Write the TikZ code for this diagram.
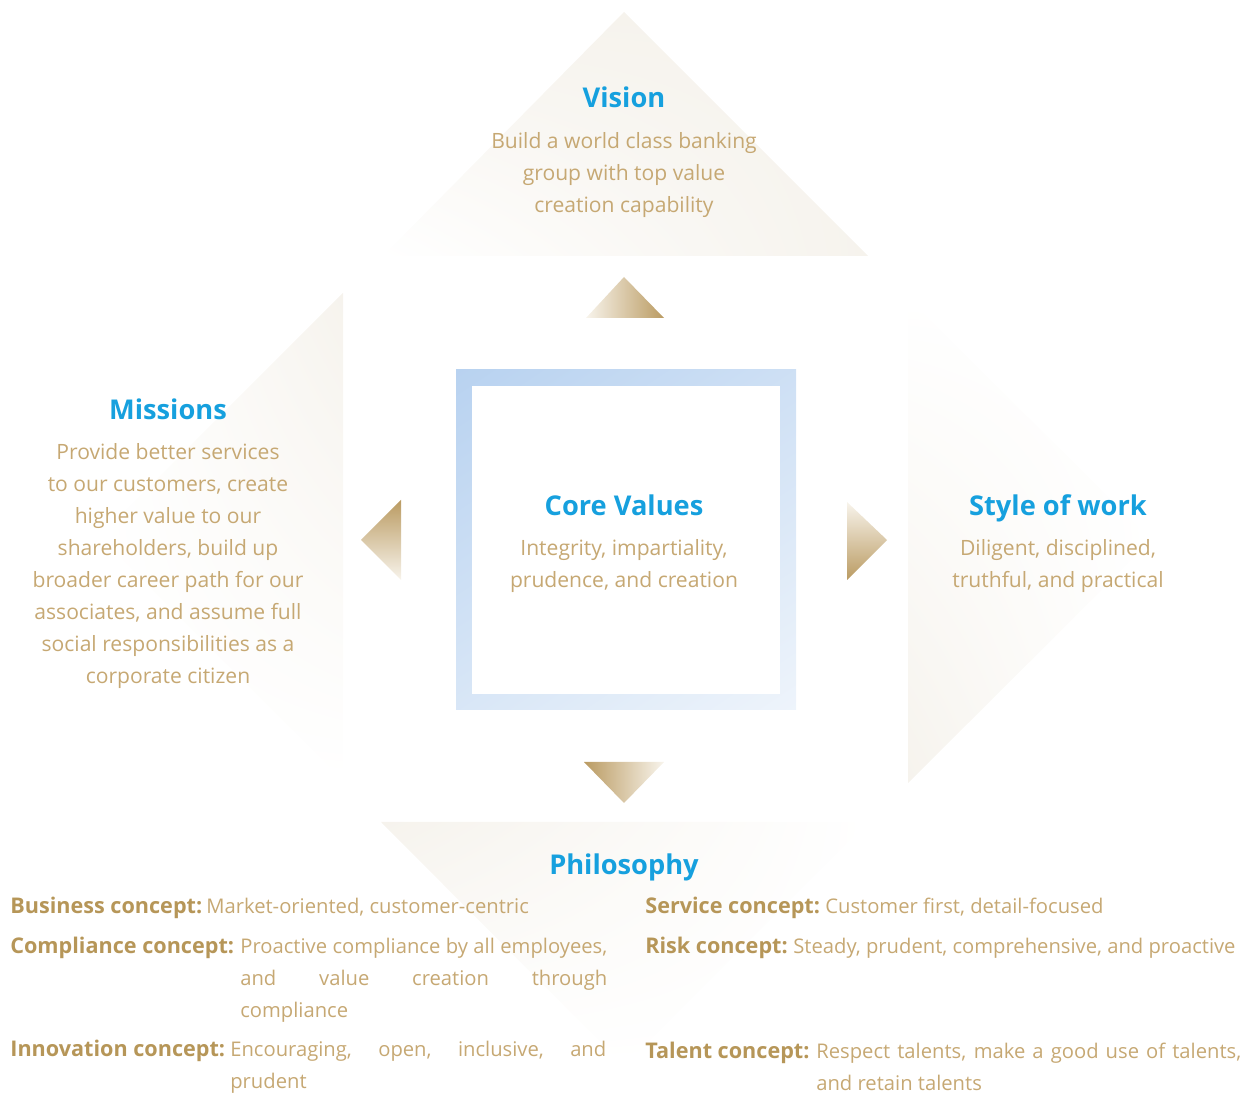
\documentclass[tikz,border=0pt]{standalone}
\usepackage{fontspec}
\setmainfont{Open Sans}
\usepackage{tikz}
\usetikzlibrary{positioning, shadings}

\definecolor{titleblue}{RGB}{22,160,222}
\definecolor{goldtext}{RGB}{198,168,115}
\definecolor{goldlabel}{RGB}{182,150,88}
\definecolor{goldarrow}{RGB}{186,155,98}
\definecolor{goldpale}{RGB}{248,244,236}
\definecolor{bgbeige}{RGB}{246,243,237}
\definecolor{framedark}{RGB}{184,210,240}
\definecolor{framelight}{RGB}{238,244,251}

\tikzset{
  title/.style={font=\fontsize{15.5pt}{18pt}\selectfont\bfseries, text=titleblue, inner sep=0pt, anchor=base},
  body/.style={font=\fontsize{12pt}{18.2pt}\selectfont, text=goldtext, align=center, inner sep=0pt},
  conceptname/.style={font=\fontsize{12.3pt}{18.2pt}\selectfont\bfseries, text=goldlabel, inner sep=0pt, anchor=base west},
  conceptbody/.style={font=\fontsize{11.5pt}{18.2pt}\selectfont, text=goldtext, inner sep=0pt, anchor=base west},
}

\begin{document}
\begin{tikzpicture}[x=0.02cm, y=-0.02cm]
    \useasboundingbox (0,0) rectangle (1249,1094);

    % ---------- 背景大三角 ----------
    % 上
    \shade[upper left=bgbeige, upper right=bgbeige, lower left=white, lower right=bgbeige]
        (383,256) -- (624,12) -- (868,256) -- cycle;
    % 左
    \shade[upper left=white, upper right=bgbeige, lower left=white, lower right=white]
        (343,293) -- (99,537) -- (343,781) -- cycle;
    % 右
    \shade[upper left=white, upper right=white, lower left=bgbeige, lower right=white]
        (908,298) -- (1152,540) -- (908,783) -- cycle;
    % 下
    \shade[upper left=bgbeige, upper right=white, lower left=white, lower right=white]
        (381,822) -- (868,822) -- (624,1066) -- cycle;

    % ---------- 金色小三角 ----------
    \shade[left color=goldpale, right color=goldarrow] (586,318) -- (624,277) -- (664,318) -- cycle;
    \shade[top color=goldarrow, bottom color=goldpale] (401,500) -- (361,540) -- (401,580) -- cycle;
    \shade[top color=goldpale, bottom color=goldarrow] (847,502) -- (887,540) -- (847,580) -- cycle;
    \shade[left color=goldarrow, right color=goldpale] (584,762) -- (664,762) -- (624,803) -- cycle;

    % ---------- 核心价值方框 ----------
    \shade[upper left=framedark, upper right=framedark!60!framelight,
           lower left=framedark!40!framelight, lower right=framelight]
        (456,370) rectangle (796,710);
    \fill[white] (472,386) rectangle (780,694);

    \node[title] (core) at (624,516) {Core Values};
    \node[body] (coretxt) at (624,566) {Integrity, impartiality,\\prudence, and creation};

    % ---------- 愿景 ----------
    \node[title] (vision) at (624,108) {Vision};
    \node[body] (visiontxt) at (624,175) {Build a world class banking\\group with top value\\creation capability};

    % ---------- 使命 ----------
    \node[title] (mission) at (168,420) {Missions};
    \node[body] (missiontxt) at (168,566) {Provide better services\\to our customers, create\\higher value to our\\shareholders, build up\\broader career path for our\\associates, and assume full\\social responsibilities as a\\corporate citizen};

    % ---------- 作风 ----------
    \node[title] (style) at (1058,516) {Style of work};
    \node[body] (styletxt) at (1058,566) {Diligent, disciplined,\\truthful, and practical};

    % ---------- 理念 ----------
    \node[title] (philo) at (624,875) {Philosophy};

    % 左列
    \node[conceptname] (bus) at (10,914) {Business concept:};
    \node[conceptbody] (bustxt) at (206,914) {Market-oriented, customer-centric};
    \node[conceptname] (cpl) at (10,954) {Compliance concept:};
    \node[conceptbody] (cpltxt) at (240,954) {\parbox[t]{7.34cm}{%
        \makebox[\linewidth][s]{Proactive compliance by all employees,}\\
        \makebox[\linewidth][s]{and value creation through}\\
        compliance}};
    \node[conceptname] (inn) at (10,1057) {Innovation concept:};
    \node[conceptbody] (inntxt) at (230,1057) {\parbox[t]{7.52cm}{%
        \makebox[\linewidth][s]{Encouraging, open, inclusive, and}\\
        prudent}};

    % 右列
    \node[conceptname] (srv) at (645,914) {Service concept:};
    \node[conceptbody] (srvtxt) at (825,914) {Customer first, detail-focused};
    \node[conceptname] (risk) at (645,954) {Risk concept:};
    \node[conceptbody] (risktxt) at (793,954) {Steady, prudent, comprehensive, and proactive};
    \node[conceptname] (tal) at (645,1059) {Talent concept:};
    \node[conceptbody] (taltxt) at (816,1059) {\parbox[t]{8.5cm}{%
        \makebox[\linewidth][s]{Respect talents, make a good use of talents,}\\
        and retain talents}};
\end{tikzpicture}
\end{document}
